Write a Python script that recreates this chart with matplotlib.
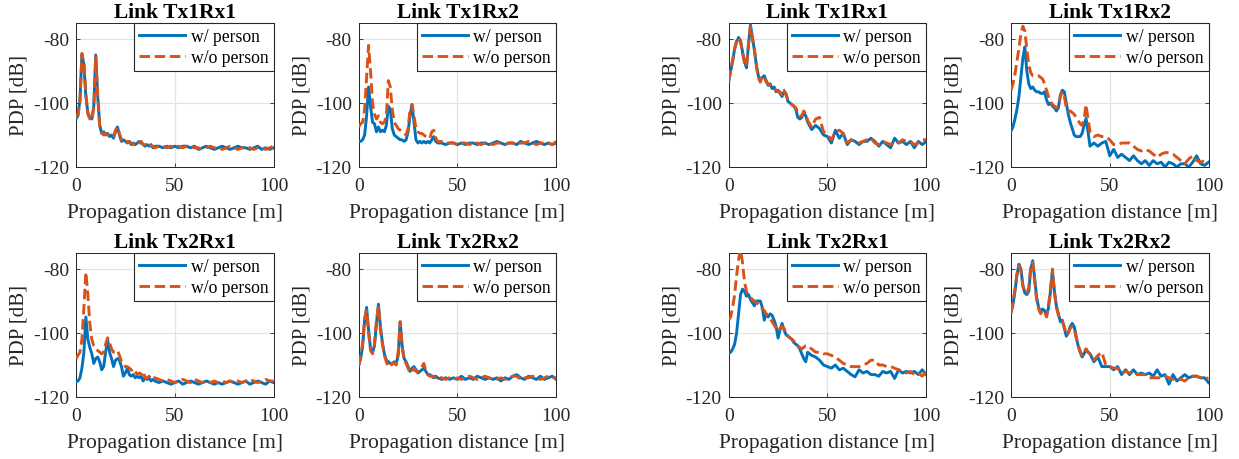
import matplotlib
matplotlib.use("Agg")
import matplotlib.pyplot as plt
import numpy as np

# ---------------- data ----------------
dist = list(range(0, 41)) + list(range(42, 101, 2))  # propagation distance [m]

titles = ["Link Tx1Rx1", "Link Tx1Rx2", "Link Tx2Rx1", "Link Tx2Rx2"]
series_labels = ["w/ person", "w/o person"]
xticks = [0, 50, 100]
yticks = [-120, -100, -80]
ytick_labels = ["-120", "-100", "-80"]

# Left group
L_tx1rx1_w = [-105, -104, -99, -85, -88, -98, -103, -104.5, -105, -101, -85, -98, -107, -109.5, -109, -110, -109.5, -110.5, -110, -111, -109, -107.5, -110, -112, -111.5, -112, -112.5, -112, -113, -112.5, -113, -112.5, -112, -112.5, -113, -113.5, -113, -113.5, -113, -114, -113.5,
              -113.5, -114, -113.5, -114, -113.5, -114, -113.5, -113.5, -114, -113.5, -114.5, -114, -113.5, -114, -114.5, -114, -113.5, -114, -114.5, -114, -113.5, -114, -114, -114.5, -114, -113.5, -114.5, -114, -114.5, -114]
L_tx1rx1_wo = [-104.5, -103.5, -99.5, -84.5, -87.5, -97, -103.5, -105, -105.5, -101.5, -85.5, -97.5, -107, -109, -110, -109.5, -110, -110, -110.5, -110.5, -108.5, -107.5, -109.5, -111.5, -112, -112.5, -112, -112.5, -112.5, -113, -112.5, -112, -112.5, -112, -113, -113, -113.5, -113, -113.5, -113.5, -114,
               -113.5, -113.5, -114, -113.5, -114, -113.5, -114, -113.5, -113.5, -114, -114, -114.5, -114, -113.5, -114, -114, -114.5, -114, -113.5, -114, -114.5, -114, -113.5, -114, -114.5, -114, -114, -114.5, -114, -113.5]

L_tx1rx2_w = [-112, -112, -111.5, -110, -104, -95, -101, -106, -106.5, -109, -107.5, -109, -108.5, -109, -107, -101, -102, -108, -110, -110.5, -111, -111.5, -111.5, -112, -111.5, -109, -104, -100.5, -106, -111.5, -112.5, -112, -112.5, -112, -112.5, -112, -112.5, -111.5, -110.5, -112, -112.5,
              -112.5, -113, -112.5, -112.5, -113, -112.5, -113, -112.5, -112.5, -113, -112.5, -112.5, -113, -112.5, -112, -112.5, -113, -112.5, -112.5, -113, -112, -112.5, -113, -112.5, -112, -112.5, -113, -112.5, -113, -112.5]
L_tx1rx2_wo = [-107.5, -106.5, -106, -102, -92, -82, -90, -100, -103.5, -105, -104, -106, -106.5, -106, -104, -93, -95, -102, -106, -107, -108, -108.5, -109, -109.5, -110, -108, -102, -100.5, -104, -108, -109, -109.5, -109.5, -110, -110.5, -111, -111, -109, -108.5, -111, -112,
               -112, -112.5, -112.5, -112.5, -113, -112.5, -112.5, -113, -112.5, -112.5, -113, -112.5, -112.5, -113, -112.5, -112.5, -113, -112.5, -112.5, -113, -112.5, -112.5, -112, -112.5, -113, -112.5, -112.5, -112.5, -113, -112]

L_tx2rx1_w = [-115.3, -115, -114, -111, -106, -95, -102, -104.5, -106.5, -109.5, -108, -107.5, -109, -111.5, -110.5, -106, -102, -106, -108, -110.5, -108.5, -108, -108.5, -110.5, -113.5, -112.5, -111, -113, -113.5, -113, -114, -113.5, -114, -113.5, -115, -114, -114.5, -114, -115, -114.5, -115,
              -115.5, -115, -115.5, -116, -115.5, -115, -116, -115.5, -115, -115.5, -116, -115.5, -115, -115.5, -116, -115.5, -116, -115.5, -115, -115.5, -116, -115.5, -115, -116, -115.5, -115, -115.5, -116, -115, -115.5]
L_tx2rx1_wo = [-108, -107, -106, -102, -92, -81, -88, -97, -102, -104, -105, -105.5, -106, -106.5, -106, -103.5, -101.5, -103, -105, -106, -106, -105.5, -107, -109, -110, -110.5, -110.5, -111, -111.5, -112.5, -112, -113, -112.5, -113, -112, -114, -114, -113.5, -114.5, -114, -114,
               -114.5, -115, -114.5, -115, -115.5, -115, -114.5, -115, -115.5, -114.5, -115, -115.5, -115, -115.5, -115, -115.5, -115, -115.5, -115, -115.5, -115, -115.5, -115, -114.5, -115, -115.5, -115, -114.5, -115, -115]

L_tx2rx2_w = [-110.2, -108, -104, -96, -92, -99, -105, -106, -104, -97, -91, -98, -103, -106.5, -108.5, -109, -109.5, -109.5, -109, -109.5, -107, -96.5, -104, -108, -109, -110.5, -112, -111, -110.5, -111.5, -112.5, -112, -111.5, -111, -112, -113, -113, -113.5, -114, -113.5, -114,
              -114.5, -114, -114.5, -114, -114.5, -113.5, -114.5, -114, -114.5, -113.5, -114, -114.5, -114, -114.5, -114, -115, -114, -114.5, -113.5, -113, -114, -114.5, -113.5, -114, -114.5, -113.5, -114.5, -114, -113.5, -114.5]
L_tx2rx2_wo = [-110, -107.5, -103, -95.5, -93, -100, -105.5, -106.5, -103.5, -96, -91.5, -99, -103.5, -107, -109, -110.5, -110.5, -109.5, -109.5, -110, -106, -96.5, -104.5, -108.5, -109.5, -111, -112.5, -112, -111, -112, -112, -111.5, -110.5, -109.5, -112, -113, -113.5, -113.5, -113.5, -114, -113.5,
               -114, -114.5, -114, -114.5, -114, -114.5, -114, -113.5, -114, -114.5, -114, -113.5, -114, -114.5, -114.5, -114, -114.5, -114, -113.5, -113.5, -114.5, -114, -114, -113.5, -114, -114.5, -114, -113.5, -114, -114]

# Right group
R_tx1rx1_w = [-93.3, -90, -87, -83, -81, -79.5, -80.5, -84, -87, -89, -82, -75.5, -79.5, -83.5, -88, -91.5, -93, -92, -91.5, -93, -94.5, -94, -95.5, -95, -96.5, -96, -97, -98, -96.5, -97, -99.5, -100, -100.5, -101, -102, -104.5, -105, -104.5, -103, -104, -106,
              -108.3, -107, -108, -110, -110.5, -112.5, -108.5, -111, -109.5, -113, -111.5, -112, -113, -112, -112, -111, -112, -113.5, -112, -113, -114, -111, -112.5, -112, -113, -112, -114, -112, -113, -112]
R_tx1rx1_wo = [-93, -89.5, -86.5, -83, -80.5, -79.5, -81, -84.5, -87.5, -88.5, -81.5, -76, -80, -83, -88.5, -92, -93.5, -91.5, -92, -93.5, -94, -94.5, -95, -95.5, -96, -96.5, -96.5, -97.5, -96, -97.5, -99, -100, -100.5, -101, -101.5, -103, -104, -104, -102.5, -103.5, -105.5,
               -107.5, -105, -104.5, -109, -110, -111.5, -109, -108.5, -109.5, -112.5, -111.5, -112, -112.5, -112, -111.5, -111, -112.5, -113, -112, -112.5, -113, -112, -112.5, -111.5, -112, -112, -113, -112.5, -111.5, -111.5]

R_tx1rx2_w = [-108.8, -107.5, -105, -102, -98, -92, -86, -82.5, -90, -94, -95.5, -95, -96, -96.5, -96.5, -97, -97, -96.5, -99, -100.5, -100, -101, -101.5, -102.5, -101.5, -97.5, -96, -96.5, -100, -103.5, -106, -108, -110, -110.5, -110.5, -110.5, -109.5, -107, -104.8, -109, -113.5,
              -112.5, -113.5, -112.5, -112, -116.5, -114.5, -117, -116, -117, -118, -116.5, -118, -119, -118, -119.5, -118, -119, -118.5, -120, -118.5, -119, -120, -119, -119, -120, -118.5, -116.5, -119, -119.5, -118.5]
R_tx1rx2_wo = [-96, -94, -91, -87, -83, -78.5, -76, -77.5, -83, -88, -90.5, -91.5, -91.5, -91.5, -91.5, -92, -92.5, -94, -96, -98, -99.5, -100.5, -101, -101.5, -101, -98, -96.5, -98, -101.5, -102.5, -102.5, -103, -103.5, -104.5, -105.5, -106.5, -107, -105, -100.5, -105, -109,
               -110.5, -110, -110.5, -110.5, -111.5, -113, -113, -112.5, -112.5, -112.5, -113.5, -114.5, -115, -114.5, -115, -116, -117, -116, -115.5, -115.5, -116, -117, -118, -119, -117.5, -116.5, -118, -118.5, -118, -118]

R_tx2rx1_w = [-106.3, -106, -105, -103.5, -100, -94, -88, -86.3, -87, -88.5, -88, -89.5, -90.5, -91.5, -90, -90, -90, -92, -96, -94, -95, -94, -94.5, -96, -98, -101.6, -99, -97, -99, -100.5, -101, -101.5, -102, -103, -103.5, -104, -105, -106.5, -108, -109, -106,
              -107, -107.5, -108.5, -110, -110.5, -111, -110, -111.5, -111, -112, -113, -113.7, -111.5, -112.5, -112, -113, -113, -113.5, -112, -112.5, -112, -114.2, -111.5, -112.5, -112, -112.5, -112, -113, -111.5, -113]
R_tx2rx1_wo = [-96, -95, -92, -88, -82, -77, -74, -78, -84, -87, -88.5, -89, -89.5, -90, -90.5, -91, -91.5, -92.5, -93, -94, -95, -95.5, -96.5, -97.5, -98.5, -99.5, -98.5, -98, -98.5, -100, -101, -101.5, -102, -102.5, -103, -104, -104.5, -105, -104.5, -104, -104,
               -105, -106, -106, -106.5, -106.5, -107, -107.5, -108.5, -109.5, -110, -110.5, -110.5, -110.5, -110, -109.5, -108.5, -108.5, -110, -110, -110.5, -110.5, -111, -111.5, -112, -112.5, -112, -113, -112.5, -113.5, -112]

R_tx2rx2_w = [-93.7, -91, -87, -82, -78.5, -80, -85, -87.5, -88, -87, -80, -77.4, -83, -89, -92, -93.5, -92.5, -93, -94.5, -92, -87, -80.7, -87, -91.6, -94, -96.5, -96, -98.5, -101, -100, -98, -97, -98, -101, -104, -106, -107.5, -106.5, -105, -106, -106.5,
              -109, -107.5, -110.5, -110.5, -110.5, -111.5, -110.5, -113, -111.5, -113, -111.5, -113, -112.5, -113, -112.5, -113.5, -111.5, -113.5, -113, -116, -113, -115, -114, -113, -114, -113.5, -113.5, -114, -114, -115.5]
R_tx2rx2_wo = [-93.5, -90.5, -86.5, -81.5, -79, -80.5, -85.5, -87, -87.5, -86, -79, -78, -84, -89.5, -92.5, -94, -93, -93.5, -95, -91.5, -86, -80, -87.5, -92, -94.5, -96, -96.5, -98, -100.5, -100, -98.5, -98, -98.5, -101.5, -104, -105.5, -107, -106, -105, -106, -106.5,
               -108.5, -107, -106, -110, -110.5, -111, -111, -112.5, -112, -112.5, -112, -113, -113, -113, -114, -114, -114, -114, -113.5, -114, -114.5, -114, -114.5, -115, -114, -113.5, -113.5, -114, -114.5, -114]

left_group = [(L_tx1rx1_w, L_tx1rx1_wo), (L_tx1rx2_w, L_tx1rx2_wo), (L_tx2rx1_w, L_tx2rx1_wo), (L_tx2rx2_w, L_tx2rx2_wo)]
right_group = [(R_tx1rx1_w, R_tx1rx1_wo), (R_tx1rx2_w, R_tx1rx2_wo), (R_tx2rx1_w, R_tx2rx1_wo), (R_tx2rx2_w, R_tx2rx2_wo)]

# ---------------- style ----------------
plt.rcParams['font.family'] = ['Liberation Serif', 'DejaVu Serif']

BLUE = '#0072BD'
ORANGE = '#D95319'

fig = plt.figure(figsize=(12.39, 4.6), dpi=100)

W, H = 1239.0, 460.0
lefts = [76, 358.7, 728.7, 1011]
row_tops = [24, 254]
aw, ah = 197.5, 144

def make_ax(left_px, top_px):
    return fig.add_axes([left_px / W, 1 - (top_px + ah) / H, aw / W, ah / H])

panels = []
for r in range(2):
    for c in range(4):
        grp = left_group if c < 2 else right_group
        idx = r * 2 + (c % 2)
        panels.append((lefts[c], row_tops[r], titles[idx], grp[idx]))

for left_px, top_px, title, (yw, ywo) in panels:
    ax = make_ax(left_px, top_px)
    ax.plot(dist, yw, color=BLUE, lw=2.1, label=series_labels[0], zorder=3)
    ax.plot(dist, ywo, color=ORANGE, lw=2.1, linestyle=(0, (3.6, 1.6)), label=series_labels[1], zorder=4)
    ax.set_xlim(0, 100)
    ax.set_ylim(-120, -75)
    ax.set_xticks(xticks)
    ax.set_yticks(yticks)
    ax.set_yticklabels(ytick_labels)
    ax.grid(True, color='#e3e3e3', lw=0.9)
    ax.set_axisbelow(True)
    ax.tick_params(direction='in', length=3, width=0.6, labelsize=14, colors='#262626',
                   top=True, right=True)
    ax.tick_params(axis='x', pad=7)
    ax.tick_params(axis='y', pad=5)
    for s in ax.spines.values():
        s.set_color('#262626')
        s.set_linewidth(0.7)
    ax.set_title(title, fontsize=15.5, fontweight='bold', pad=4)
    ax.set_xlabel('Propagation distance [m]', fontsize=15.5, color='#262626', labelpad=7)
    ax.set_ylabel('PDP [dB]', fontsize=15, color='#262626', labelpad=3)
    leg = ax.legend(loc='upper right', fontsize=12.7, frameon=True, fancybox=False,
                    framealpha=1, edgecolor='#262626', borderaxespad=0, borderpad=0.3,
                    labelspacing=0.2, handlelength=2.6, handletextpad=0.3)
    leg.get_frame().set_linewidth(0.8)
    leg.set_zorder(10)

fig.savefig('out.png', dpi=100)
